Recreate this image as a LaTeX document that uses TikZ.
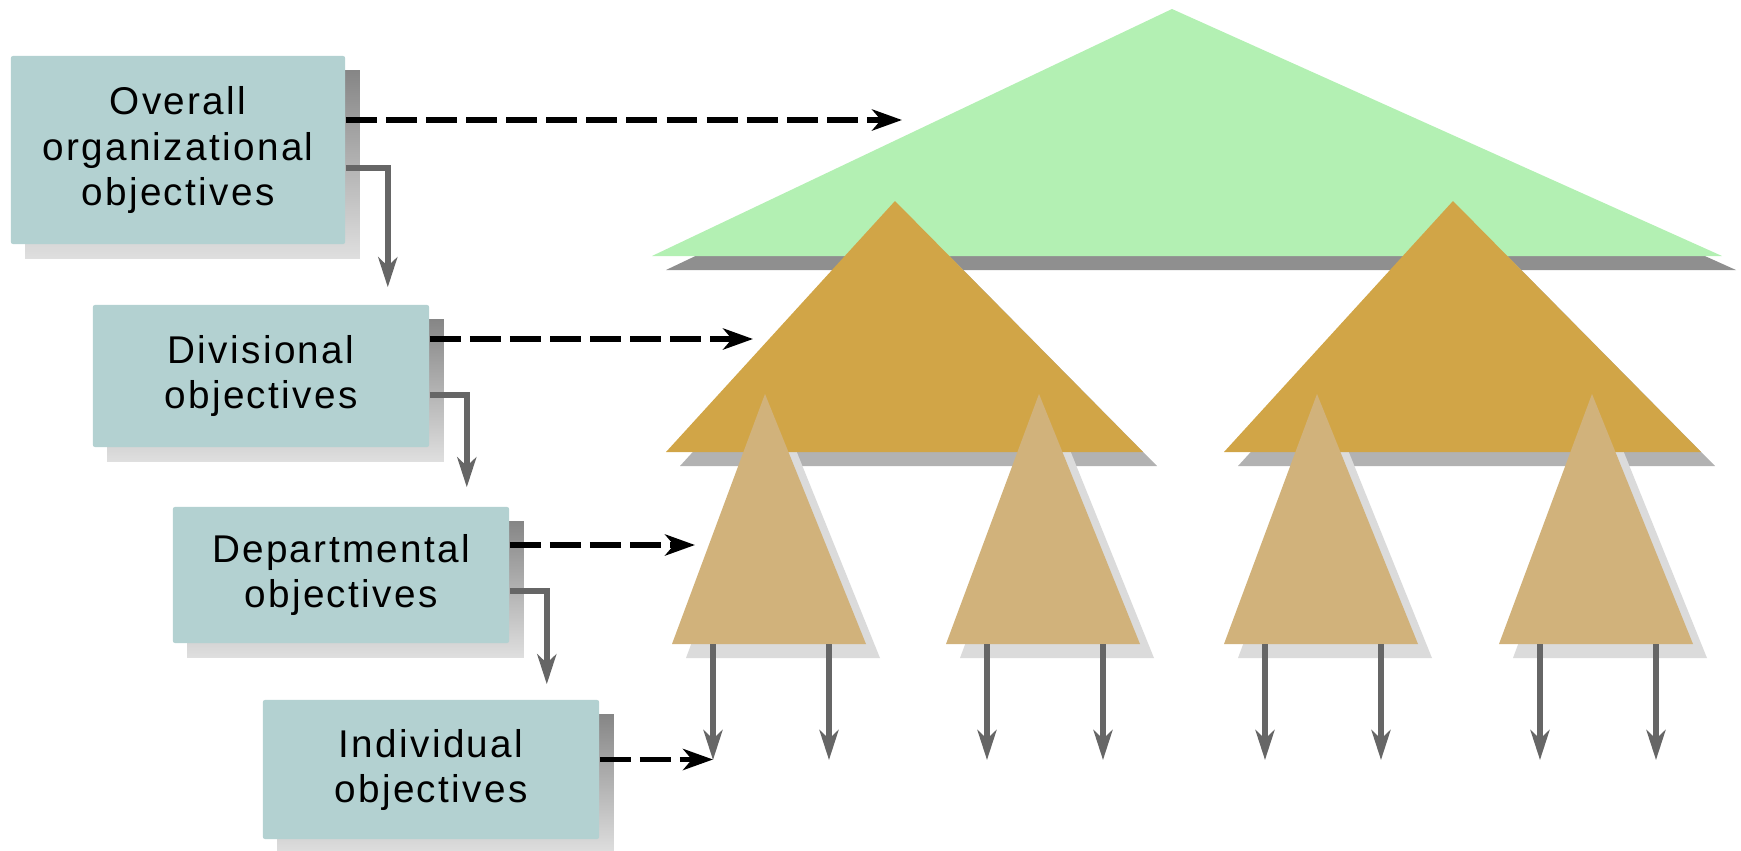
\documentclass[tikz,border=0pt]{standalone}
\usepackage{fontspec}
\newfontfamily\boxfont{Liberation Sans}[LetterSpace=6]
\usetikzlibrary{arrows.meta,calc,backgrounds}
\definecolor{boxfill}{HTML}{B3D1D1}
\definecolor{topgreen}{HTML}{B3F0B3}
\definecolor{divorange}{HTML}{D1A547}
\definecolor{depttan}{HTML}{D1B27B}
\definecolor{linegray}{HTML}{666666}

\begin{document}
\begin{tikzpicture}[x=0.01cm,y=-0.01cm,
    objbox/.style={fill=boxfill,rounded corners=0.6pt,inner sep=0pt,align=center,
        font=\boxfont\fontsize{11}{12.8}\selectfont},
    planline/.style={line width=1.7pt,dash pattern=on 8.8pt off 2.6pt,
        -{Stealth[length=8.5pt,width=6pt,inset=2.5pt]}},
    feed/.style={line width=1.6pt,draw=linegray,
        -{Stealth[length=8.5pt,width=5.4pt,inset=2.5pt]}}]
    \useasboundingbox (0,0) rectangle (1741,851);

    % shadows first, then the triangles on top
    \fill[gray!88] (666,270)--(1186,23)--(1736,270)--cycle;
    \foreach \l in {666,1224}
        \fill[gray!60] (\l+14,466)--(\l+243,215)--(\l+491,466)--cycle;
    \foreach \l in {672,946,1224,1499}
        \fill[gray!28] (\l+14,658)--(\l+107,408)--(\l+208,658)--cycle;

    \fill[topgreen] (652,256)--(1172,9)--(1722,256)--cycle;
    \foreach \l in {666,1224}
        \fill[divorange] (\l,452)--(\l+229,201)--(\l+477,452)--cycle;
    \foreach \l [count=\i] in {672,946,1224,1499}{
        \fill[depttan] (\l,644)--(\l+93,394)--(\l+194,644)--cycle;
        \coordinate (a\i) at (\l+41,644);
        \coordinate (b\i) at (\l+157,644);
        \draw[feed] (a\i)--++(0,116);
        \draw[feed] (b\i)--++(0,116);
    }

    \node[objbox,minimum width=3.34cm,minimum height=1.88cm] (overall) at (178,150)
        {Overall\\organizational\\objectives};
    \node[objbox,minimum width=3.36cm,minimum height=1.42cm] (division) at (261,376)
        {Divisional\\objectives};
    \node[objbox,minimum width=3.36cm,minimum height=1.36cm] (department) at (341,575)
        {Departmental\\objectives};
    \node[objbox,minimum width=3.36cm,minimum height=1.39cm] (individual) at (431,769.5)
        {Individual\\objectives};

    \begin{pgfonlayer}{background}
        \foreach \b in {overall,division,department,individual}
            \shade[top color=gray!95,bottom color=gray!25]
                ($(\b.north west)+(15,15)$) rectangle ($(\b.south east)+(14,14)$);
    \end{pgfonlayer}

    \coordinate (toporg) at (902,120);
    \coordinate (divorg) at (753,339);
    \coordinate (deptorg) at (695,545);
    \draw[planline] ($(overall.east)+(0,-30)$)--(toporg);
    \draw[planline] ($(division.east)+(0,-37)$)--(divorg);
    \draw[planline] ($(department.east)+(0,-30)$)--(deptorg);
    \draw[planline] ($(individual.east)+(0,-10)$)--(a1|-0,759.5);

    \draw[feed,shorten >=17*0.01cm] ($(overall.east)+(0,18)$) -| ($(division.north east)+(-42,0)$);
    \draw[feed,shorten >=19*0.01cm] ($(division.east)+(0,19)$) -| ($(department.north east)+(-43,0)$);
    \draw[feed,shorten >=15*0.01cm] ($(department.east)+(0,16)$) -| ($(individual.north east)+(-53,0)$);
\end{tikzpicture}
\end{document}
